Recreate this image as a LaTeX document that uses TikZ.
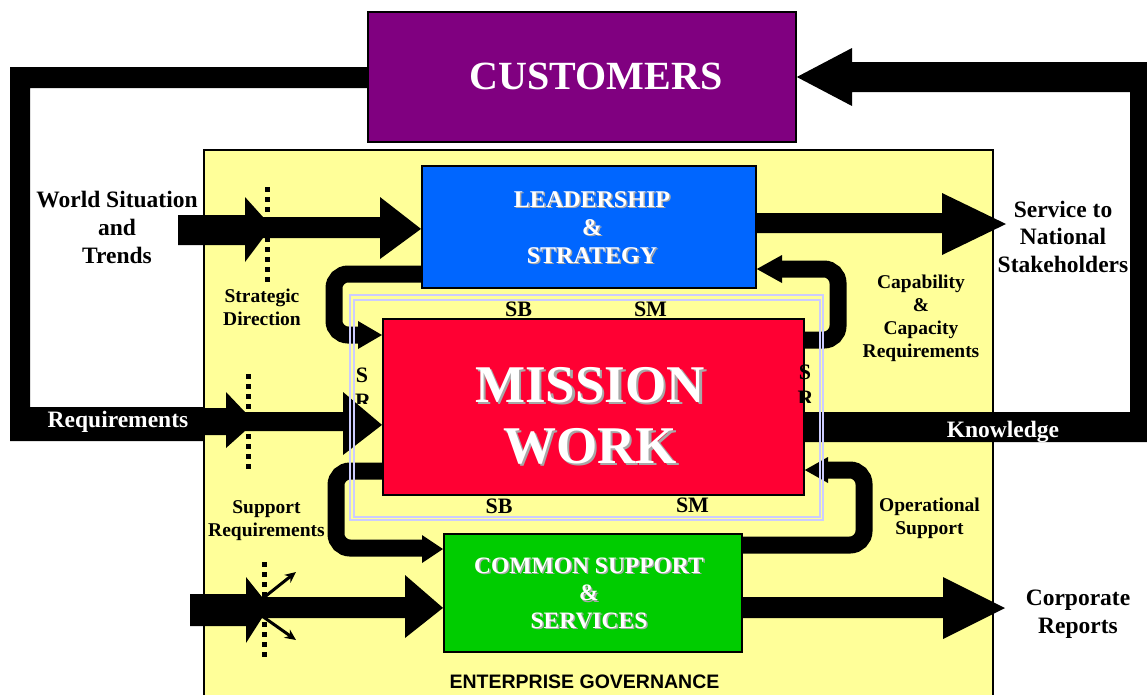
\documentclass[tikz,border=0pt]{standalone}
\usepackage{fontspec}
\setmainfont{Liberation Serif}
\setsansfont{Liberation Sans}
\usetikzlibrary{arrows.meta,calc}

\definecolor{custpurple}{HTML}{800080}
\definecolor{lsblue}{HTML}{0066FF}
\definecolor{mwred}{HTML}{FF0033}
\definecolor{csgreen}{HTML}{00CC00}
\definecolor{govyellow}{HTML}{FFFF99}
\definecolor{lavframe}{HTML}{CCCCFF}
\definecolor{txtshade}{HTML}{A8A8A8}

% stacked, centred lines whose base is the first baseline
\newcommand\stacklines[1]{\begin{tabular}[t]{@{}c@{}}#1\end{tabular}}
\newcommand\fs[2]{\fontsize{#1}{#2}\selectfont}
% white title with a grey drop shadow offset by #1
\newcommand\shadowed[2]{\makebox[0pt][l]{\hspace{#1}\raisebox{-#1}{\color{txtshade}\stacklines{#2}}}\stacklines{#2}}

\begin{document}
\begin{tikzpicture}[x=1pt,y=-1pt,
  box/.style={draw=black, line width=1.8pt, inner sep=0pt, anchor=north west},
  lbl/.style={anchor=base, inner sep=0pt, outer sep=0pt},
  big/.style={font={\fs{23.5}{28}\bfseries}},
  small/.style={font={\fs{19.5}{23}\bfseries}},
  tag/.style={font={\fs{22}{26}\bfseries}},
  gate/.style={line width=5pt, dash pattern=on 5pt off 5pt},
  loopline/.style={line width=17pt, rounded corners=14pt},
  divert/.style={line width=3pt, -{Stealth[length=11pt,width=10pt]}},
  lav/.style={draw=lavframe, line width=1.6pt}]
\useasboundingbox (0,0) rectangle (1147,694);

% enterprise governance area
\fill[govyellow] (204,150) rectangle (993,700);
\draw[line width=1.5pt] (204,700) -- (204,150) -- (993,150) -- (993,700);

% gates on the incoming flows
\draw[gate] (267,187) -- (267,282);
\draw[gate] (248,374) -- (248,470);
\draw[gate] (264,562) -- (264,659);

% boxes
\node[box, fill=custpurple, minimum width=428, minimum height=130] (cust) at (367,11) {};
\node[box, fill=lsblue, minimum width=334, minimum height=122] (ls) at (421,165) {};
\node[box, fill=mwred, minimum width=421, minimum height=176] (mw) at (382,318) {};
\node[box, fill=csgreen, minimum width=298, minimum height=118] (cs) at (443,533) {};

% customers feed back as requirements
\fill (cust.west |- 0,67) -- (10,67) -- (10,441) -- (204,441) -- (204,407)
  -- (30,407) -- (30,88) -- (cust.west |- 0,88) -- cycle;
\fill (204,408) -- (226,408) -- (226,392) -- (245,412) -- (343,412) -- (343,392)
  -- ($(mw.west)+(0,18)$) -- (343,455) -- (343,431) -- (245,431) -- (226,448)
  -- (226,435) -- (204,435) -- cycle;

% world situation into leadership
\fill (178,215) -- (245,215) -- (245,197) -- (263,217) -- (380,217) -- (380,197)
  -- ($(ls.west)+(0,2)$) -- (380,259) -- (380,238) -- (263,238) -- (245,262)
  -- (245,245) -- (178,245) -- cycle;

% input into common support, partly diverted
\fill (190,594) -- (246,594) -- (246,577) -- (262,597) -- (405,597) -- (405,575)
  -- ($(cs.west)+(0,15)$) -- (405,638) -- (405,618) -- (262,618) -- (246,643)
  -- (246,626) -- (190,626) -- cycle;
\coordinate (divUp) at (296,572);
\coordinate (divDown) at (296,640);
\draw[divert] (262,599) -- (divUp);
\draw[divert] (262,616) -- (divDown);

% outputs
\fill (ls.east |- 0,213) -- (942,213) -- (942,193) -- (1006,224) -- (942,255)
  -- (942,233) -- (ls.east |- 0,233) -- cycle;
\fill (cs.east |- 0,597) -- (943,597) -- (943,577) -- (1005,608) -- (943,639)
  -- (943,618) -- (cs.east |- 0,618) -- cycle;

% knowledge back to customers
\fill (mw.east |- 0,412) -- (1130,412) -- (1130,92) -- (852,92) -- (852,106)
  -- (cust.east |- 0,77) -- (852,48) -- (852,62) -- (1147,62) -- (1147,442)
  -- (mw.east |- 0,442) -- cycle;

% internal loops
\draw[loopline] (ls.west |- 0,274) -- (334,274) -- (334,335) -- (360,335);
\fill (358,321) -- (mw.west |- 0,335) -- (358,349) -- cycle;

\draw[loopline] (mw.east |- 0,340) -- (838,340) -- (838,269) -- (780,269);
\fill (782,255) -- (ls.east |- 0,269) -- (782,283) -- cycle;

\draw[loopline] (mw.west |- 0,471) -- (336,471) -- (336,548) -- (424,548);
\fill (422,535) -- (cs.west |- 0,549) -- (422,563) -- cycle;

\draw[loopline] (cs.east |- 0,545) -- (864,545) -- (864,470) -- (826,470);
\fill (828,457) -- (mw.east |- 0,470) -- (828,483) -- cycle;

% service boundary around mission work
\draw[lav] (350,295) rectangle (823,520);
\draw[lav] (354,300) rectangle (820,517);

% box titles
\node[lbl, text=white, font={\fs{40}{48}\bfseries}] (custT) at (596,89) {CUSTOMERS};
\node[lbl, text=white, font={\fs{24}{28}\bfseries}] (lsT) at (592,207) {\shadowed{1.5pt}{LEADERSHIP\\\&\\STRATEGY}};
\node[lbl, text=white, font={\fs{53}{61}\bfseries}] (mwT) at (590,402) {\shadowed{2.5pt}{MISSION\\WORK}};
\node[lbl, text=white, font={\fs{23.5}{27.5}\bfseries}] (csT) at (589,573) {\shadowed{1.5pt}{COMMON SUPPORT\\\&\\SERVICES}};

% flow labels
\node[lbl, big] (ws) at (117,207) {\stacklines{World Situation\\and\\Trends}};
\node[lbl, font={\fs{23.5}{27.5}\bfseries}] (svc) at (1063,217) {\stacklines{Service to\\National\\Stakeholders}};
\node[lbl, big, text=white] (req) at (118,427) {Requirements};
\node[lbl, big, text=white] (know) at (1003,437) {Knowledge};
\node[lbl, big] (rep) at (1078,605) {\stacklines{Corporate\\Reports}};
\node[lbl, small] (sd) at (262,302) {\stacklines{Strategic\\Direction}};
\node[lbl, small] (capreq) at (921,288) {\stacklines{Capability\\\&\\Capacity\\Requirements}};
\node[lbl, small] (supreq) at (266.5,513) {\stacklines{Support\\Requirements}};
\node[lbl, small] (ops) at (929.5,511) {\stacklines{Operational\\Support}};

% boundary tags
\node[lbl, tag] (sbTop) at (518.5,316) {SB};
\node[lbl, tag] (smTop) at (650.5,316) {SM};
\node[lbl, tag] (sbBot) at (499,513) {SB};
\node[lbl, tag] (smBot) at (692.5,512) {SM};
\node[lbl, tag] (srLeftS) at (362,382) {S};
\node[lbl, tag] (srRightS) at (805,379) {S};
\begin{scope}
  \clip (345,385) rectangle (381,403);
  \node[lbl, tag] (srLeftR) at (363,408) {R};
\end{scope}
\begin{scope}
  \clip (790,383) rectangle (820,402);
  \node[lbl, tag] (srRightR) at (805.5,405) {R};
\end{scope}

\node[lbl, font={\fs{19.5}{23}\sffamily\bfseries}] (eg) at (584.5,688) {ENTERPRISE GOVERNANCE};
\end{tikzpicture}
\end{document}
